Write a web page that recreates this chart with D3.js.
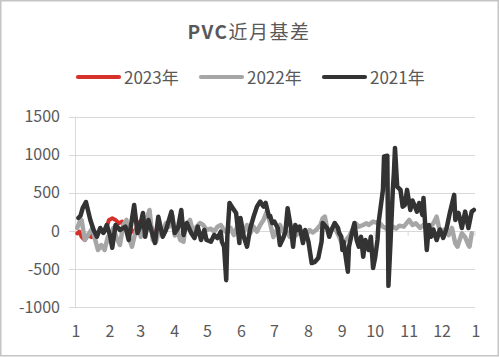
<!DOCTYPE html>
<html><head><meta charset="utf-8">
<script src="https://cdn.jsdelivr.net/npm/d3@7"></script>
<style>
html,body{margin:0;padding:0;background:#fff;}
svg{display:block;}
text{font-family:"Noto Sans CJK SC","Noto Sans",sans-serif;fill:#595959;}
</style></head>
<body>
<svg id="chart" width="499" height="357"></svg>
<script>
// ---- data ----
const monthDays = [0, 31, 59, 90, 120, 151, 181, 212, 243, 273, 304, 334, 365];
const monthLabels = ["1","2","3","4","5","6","7","8","9","10","11","12","1"];
const yTicks = [-1000, -500, 0, 500, 1000, 1500];
const seriesNames = ["2023年", "2022年", "2021年"];

// day-of-year and basis value
const days2023 = [2,4,6,9,12,15,17,20,23,26,28,31,34,37,40,43,46,48,51,54,57,59,62,65,68,69,71];
const vals2023 = [-30,-9,-75,-118,-50,-80,-20,-40,10,-20,13,145,167,145,101,123,60,-40,20,-20,60,120,90,145,100,79,13];

const days2022 = [2,5,6,9,12,16,18,21,24,27,30,32,35,38,41,44,47,49,52,55,58,60,65,68,71,74,77,80,83,86,89,91,93,96,99,101,105,108,110,114,117,120,124,127,130,133,136,139,142,145,148,151,154,157,160,163,166,169,172,175,178,181,185,187,190,192,196,199,202,205,208,211,214,217,220,224,226,228,230,233,235,238,241,244,247,250,253,256,259,263,266,268,272,275,277,281,284,287,290,293,296,300,305,308,311,315,318,321,324,327,330,333,337,341,344,347,349,353,356,359,360,362];
const vals2022 = [40,150,145,-118,-50,40,-92,-250,-184,-250,-75,-140,40,-92,-184,79,145,-75,-206,-26,79,-75,145,276,-118,-140,40,-26,105,57,200,-60,40,-118,-140,79,145,-26,40,105,79,13,30,-9,57,79,13,-26,40,-53,57,105,-9,79,-26,57,-9,79,145,254,105,-80,40,79,-9,20,-75,10,-53,0,-9,-53,13,-20,13,79,167,188,40,-9,20,13,-75,-184,-118,-75,13,101,57,79,101,80,123,110,123,57,30,79,57,30,70,57,145,79,100,40,80,13,50,101,188,-9,20,-53,40,-162,-206,-30,-80,-184,-206,-30];

const days2021 = [3,5,7,10,14,17,20,23,26,29,32,34,37,41,46,49,54,57,59,62,64,67,69,73,76,78,80,83,88,91,94,97,99,102,106,109,112,115,118,120,124,127,130,133,134,136,138,139,141,143,147,150,151,154,157,160,163,166,169,172,174,177,178,180,182,185,187,190,192,194,197,199,201,203,205,208,210,213,216,219,222,225,226,230,232,234,237,240,241,243,244,245,249,250,253,255,257,259,261,263,265,268,270,272,274,276,277,281,282,285,286,288,290,291,292,294,297,299,301,303,306,308,312,314,317,318,321,323,325,327,330,333,336,339,342,346,347,350,353,356,359,362,364];
const vals2021 = [171,200,300,380,145,13,-75,40,-26,79,-60,-220,80,13,57,-118,342,-26,40,237,-75,145,40,-158,188,57,-75,13,254,-26,40,276,-53,105,-26,-92,57,-118,13,-118,-140,-53,-92,-9,-140,-206,-645,-75,368,320,237,-158,171,-75,-206,40,188,320,386,320,368,188,200,105,122,40,-184,-92,-9,300,40,-206,79,13,57,-158,13,-140,-421,-404,-355,-140,105,40,-75,13,105,40,-26,-75,-250,-140,-535,-206,-9,105,-118,-206,-75,-338,-118,-250,-75,-487,-338,-118,105,540,978,987,-720,-118,540,763,1090,583,540,320,342,540,276,400,254,368,210,434,-250,79,-75,20,-118,20,-92,30,237,474,145,237,40,254,40,254,276];

const seriesColors = ["#d7312c", "#a6a6a6", "#333333"];

// ---- chart ----
const svg = d3.select("#chart");
svg.append("rect").attr("x",0.75).attr("y",0.75).attr("width",497.5).attr("height",355)
  .attr("fill","#fff").attr("stroke","#c4c4c4").attr("stroke-width",1.5);

const x = d3.scaleLinear().domain([0,365]).range([75,475]);
const y = d3.scaleLinear().domain([-1000,1500]).range([307.2,116.7]);

// title
const title = svg.append("text").attr("x",249).attr("y",38.5).attr("text-anchor","middle")
  .style("font-size","19px").style("letter-spacing","1.5px");
title.append("tspan").attr("font-weight","bold").text("PVC");
title.append("tspan").text("近月基差");

// gridlines
svg.append("g").selectAll("line").data(yTicks).join("line")
  .attr("x1",69).attr("x2",475)
  .attr("y1",d=>Math.round(y(d))+0.5).attr("y2",d=>Math.round(y(d))+0.5)
  .attr("stroke","#d9d9d9").attr("stroke-width",1);
svg.append("line").attr("x1",75.5).attr("x2",75.5).attr("y1",y(1500)).attr("y2",y(-1000))
  .attr("stroke","#d9d9d9").attr("stroke-width",1);
// month ticks on zero line
svg.append("g").selectAll("line").data(monthDays.slice(1)).join("line")
  .attr("x1",d=>x(d)).attr("x2",d=>x(d)).attr("y1",y(0)).attr("y2",y(0)+5)
  .attr("stroke","#d9d9d9").attr("stroke-width",1);

// y labels
svg.append("g").selectAll("text").data(yTicks).join("text")
  .attr("x",60).attr("y",d=>y(d)+5.5).attr("text-anchor","end")
  .style("font-size","16px").text(d=>d);
// x labels
svg.append("g").selectAll("text").data(monthDays).join("text")
  .attr("x",d=>x(d)+1).attr("y",337).attr("text-anchor","middle")
  .style("font-size","16px").text((d,i)=>monthLabels[i]);

// lines
const line = d3.line().x(d=>x(d[0])).y(d=>y(d[1]));
const series = [
  d3.zip(days2023, vals2023),
  d3.zip(days2022, vals2022),
  d3.zip(days2021, vals2021)
];
series.forEach((s,i)=>{
  svg.append("path").datum(s).attr("d",line).attr("fill","none")
    .attr("stroke",seriesColors[i]).attr("stroke-width",i===0?4:4.5)
    .attr("stroke-linejoin","round").attr("stroke-linecap","round");
});

// legend
const legX = [77, 200, 323];
seriesNames.forEach((n,i)=>{
  const g = svg.append("g");
  g.append("line").attr("x1",legX[i]+1).attr("x2",legX[i]+42).attr("y1",77).attr("y2",77)
    .attr("stroke",seriesColors[i]).attr("stroke-width",4.2).attr("stroke-linecap","round");
  g.append("text").attr("x",legX[i]+47).attr("y",83.5).style("font-size","17px").text(n);
});
</script>
</body></html>
